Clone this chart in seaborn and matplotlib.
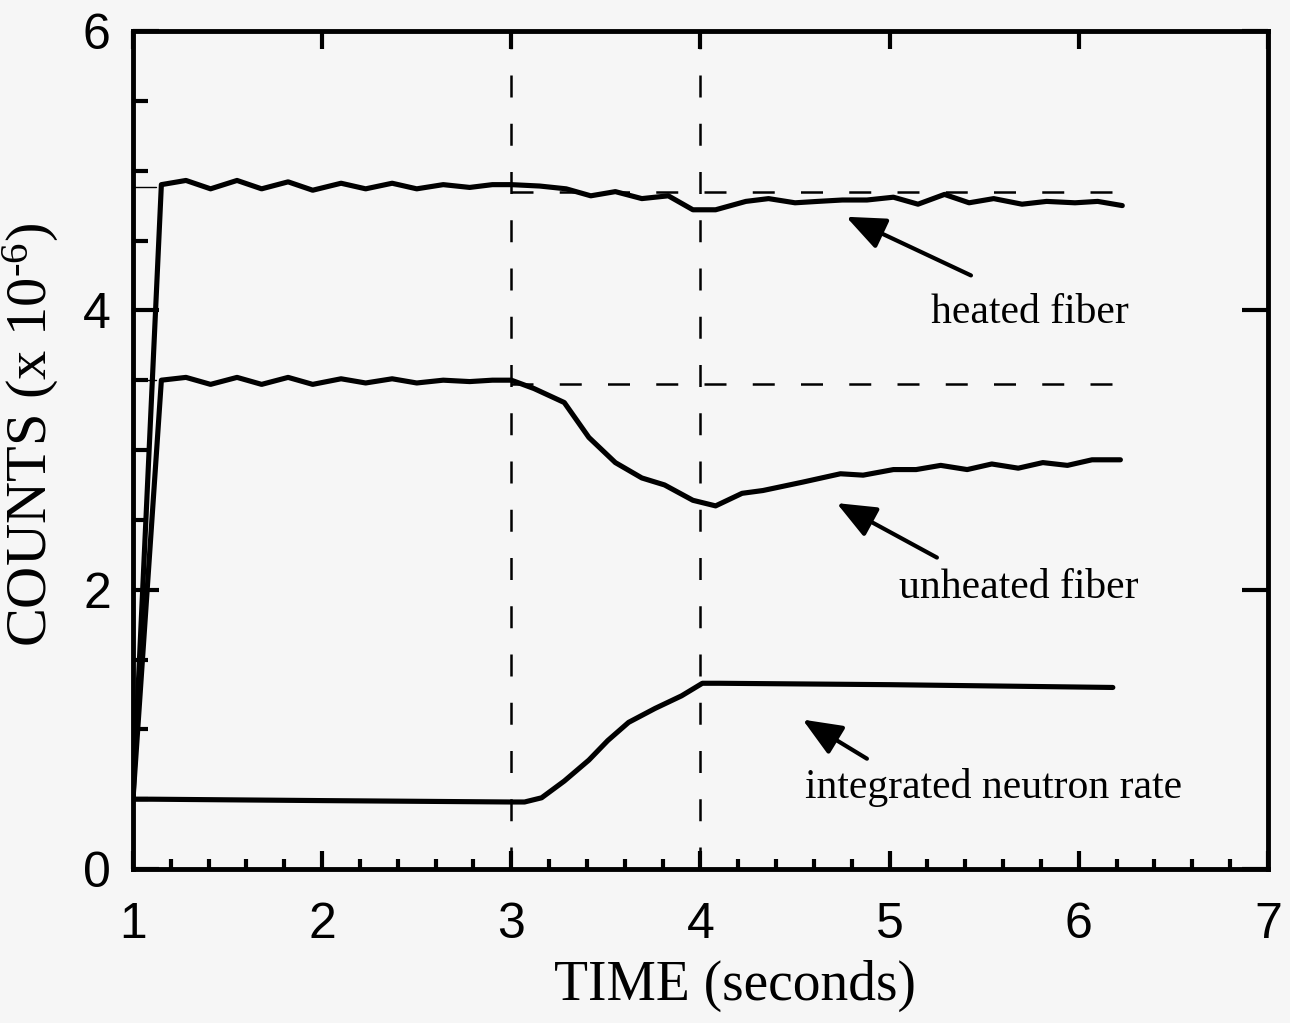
import matplotlib
matplotlib.use("Agg")
import matplotlib.pyplot as plt
import seaborn as sns
import pandas as pd

# curves (time in seconds, counts x 1e-6)
time_heated = [1.00, 1.15, 1.28, 1.41, 1.55, 1.68, 1.82, 1.95, 2.10, 2.23, 2.37, 2.50,
               2.64, 2.78, 2.90, 3.00, 3.15, 3.29, 3.42, 3.55, 3.69, 3.83, 3.96, 4.08,
               4.24, 4.36, 4.50, 4.62, 4.75, 4.88, 5.02, 5.15, 5.29, 5.42, 5.55, 5.70,
               5.83, 5.98, 6.10, 6.23]
heated = [0.50, 4.90, 4.93, 4.87, 4.93, 4.87, 4.92, 4.86, 4.91, 4.87, 4.91, 4.87,
          4.90, 4.88, 4.90, 4.90, 4.89, 4.87, 4.82, 4.85, 4.80, 4.82, 4.72, 4.72,
          4.78, 4.80, 4.77, 4.78, 4.79, 4.79, 4.81, 4.76, 4.83, 4.77, 4.80, 4.76,
          4.78, 4.77, 4.78, 4.75]

time_unheated = [1.00, 1.15, 1.28, 1.41, 1.55, 1.68, 1.82, 1.95, 2.10, 2.23, 2.37, 2.50,
                 2.64, 2.78, 2.90, 3.00, 3.12, 3.28, 3.41, 3.55, 3.69, 3.81, 3.96, 4.08,
                 4.22, 4.33, 4.54, 4.74, 4.86, 5.02, 5.14, 5.27, 5.41, 5.54, 5.68, 5.81,
                 5.94, 6.07, 6.22]
unheated = [0.50, 3.50, 3.52, 3.47, 3.52, 3.47, 3.52, 3.47, 3.51, 3.48, 3.51, 3.48,
            3.50, 3.49, 3.50, 3.50, 3.44, 3.34, 3.09, 2.91, 2.80, 2.75, 2.64, 2.60,
            2.69, 2.71, 2.77, 2.83, 2.82, 2.86, 2.86, 2.89, 2.86, 2.90, 2.87, 2.91,
            2.89, 2.93, 2.93]

time_neutron = [1.00, 1.10, 2.00, 3.00, 3.07, 3.16, 3.28, 3.41, 3.51, 3.62, 3.76, 3.90,
                4.01, 4.10, 5.00, 6.18]
neutron = [0.50, 0.50, 0.49, 0.48, 0.48, 0.51, 0.63, 0.78, 0.92, 1.05, 1.15, 1.24,
           1.33, 1.33, 1.32, 1.30]

# reference levels and event times
ref_levels = [4.85, 3.47]
ref_start, ref_end = 3.0, 6.22
event_times = [3.0, 4.0]

labels = ["heated fiber", "unheated fiber", "integrated neutron rate"]
label_xy = [(5.22, 3.91), (5.05, 1.94), (4.55, 0.51)]
arrow_tip = [(4.77, 4.67), (4.72, 2.62), (4.54, 1.07)]
arrow_tail = [(5.43, 4.25), (5.25, 2.23), (4.88, 0.79)]

sns.set_style("ticks")
bg = "#f6f6f6"
plt.rcParams["mathtext.fontset"] = "custom"
plt.rcParams["mathtext.rm"] = "Liberation Serif"
plt.rcParams["mathtext.default"] = "regular"
plt.rcParams["text.color"] = "black"
plt.rcParams["axes.labelcolor"] = "black"
plt.rcParams["xtick.color"] = "black"
plt.rcParams["ytick.color"] = "black"

fig = plt.figure(figsize=(12.9, 10.23), dpi=100, facecolor=bg)
ax = fig.add_axes([0.1031, 0.1505, 0.8798, 0.8192])
ax.set_facecolor(bg)

df_h = pd.DataFrame({"t": time_heated, "c": heated})
df_u = pd.DataFrame({"t": time_unheated, "c": unheated})
df_n = pd.DataFrame({"t": time_neutron, "c": neutron})
for d in (df_h, df_u, df_n):
    sns.lineplot(data=d, x="t", y="c", ax=ax, color="black", lw=3.7,
                 sort=False, estimator=None)

# dashed reference lines
for lv in ref_levels:
    ax.plot([ref_start, ref_end], [lv, lv], color="black", lw=1.8, dashes=(8.8, 10.5))
    ax.plot([1.0, 1.12], [lv + 0.03, lv + 0.03], color="black", lw=1.0)
for t in event_times:
    ax.axvline(t, color="black", lw=1.8, dashes=(8.8, 10.5))

for txt, xy, tip, tail in zip(labels, label_xy, arrow_tip, arrow_tail):
    ax.text(xy[0], xy[1], txt, family="Liberation Serif", fontsize=30,
            ha="left", va="baseline", color="black")
    ax.annotate("", xy=tip, xytext=tail,
                arrowprops=dict(arrowstyle="-|>,head_length=0.6,head_width=0.25",
                                mutation_scale=40, lw=3, color="black",
                                shrinkA=0, shrinkB=0))

ax.set_xlim(1, 7)
ax.set_ylim(0, 6)
ax.set_xticks([1, 2, 3, 4, 5, 6, 7])
ax.set_xticks([1 + 0.2 * i for i in range(31)], minor=True)
ax.set_yticks([0, 2, 4, 6])
ax.set_yticks([0.5 * i for i in range(13)], minor=True)

for s in ax.spines.values():
    s.set_linewidth(3.5)
    s.set_color("black")

ax.tick_params(axis="x", which="major", direction="in", top=True, bottom=True,
               length=13, width=3, pad=24, labelsize=36)
ax.tick_params(axis="x", which="minor", direction="in", top=False, bottom=True,
               length=7, width=3)
ax.tick_params(axis="y", which="major", direction="in", left=True, right=True,
               length=19, width=3, pad=16, labelsize=36)
ax.tick_params(axis="y", which="minor", direction="in", left=True, right=False,
               length=11, width=3)
for lab in ax.get_xticklabels() + ax.get_yticklabels():
    lab.set_family("Liberation Sans")
    lab.set_color("black")

ax.set_xlabel("TIME (seconds)", family="Liberation Serif", fontsize=40, color="black")
ax.set_ylabel(r"COUNTS (x 10$^{\text{-6}}$)", family="Liberation Serif", fontsize=42,
              color="black")
ax.xaxis.set_label_coords(0.530, -0.108)
ax.yaxis.set_label_coords(-0.063, 0.518)

fig.savefig("out.png", dpi=100, facecolor=bg)
